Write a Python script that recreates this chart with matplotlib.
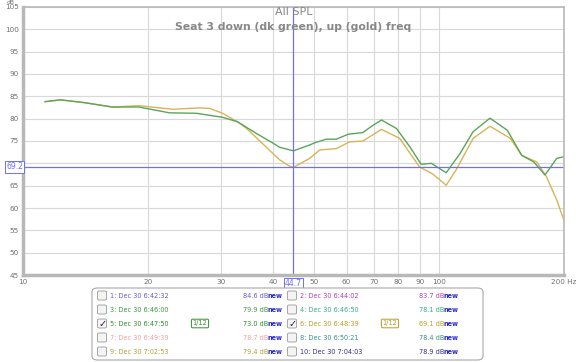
import numpy as np
import matplotlib.pyplot as plt
from matplotlib.patches import FancyBboxPatch, Rectangle

# dados (Hz, dB)
freq_verde = [11.3, 12.3, 14.0, 16.4, 19.0, 22.5, 26.1, 30.2, 32.8, 36.4, 39.8, 41.4, 44.7,
              48.9, 50.3, 53.6, 56.7, 60.5, 65.7, 68.7, 72.8, 79.1, 85.2, 90.7, 96.0,
              104.2, 112.5, 121.0, 132.8, 146.2, 158.3, 169.3, 180.1, 192.2, 200.0]
spl_verde = [83.8, 84.2, 83.6, 82.6, 82.6, 81.3, 81.2, 80.3, 79.3, 76.7, 74.6, 73.6, 72.8,
             74.1, 74.6, 75.4, 75.4, 76.5, 76.9, 78.2, 79.7, 77.8, 73.7, 69.8, 70.0,
             67.9, 72.2, 77.1, 80.1, 77.4, 71.8, 70.3, 67.4, 71.1, 71.5]

freq_ouro = [11.3, 12.3, 14.0, 16.4, 19.0, 22.9, 26.5, 28.1, 30.2, 32.8, 34.5, 37.6, 41.4,
             43.7, 44.7, 48.9, 51.7, 56.7, 61.0, 65.7, 72.8, 80.5, 89.9, 96.8, 104.2,
             110.0, 121.0, 132.8, 148.6, 158.3, 172.1, 181.6, 192.2, 200.0]
spl_ouro = [83.8, 84.2, 83.6, 82.6, 82.9, 82.1, 82.4, 82.3, 81.2, 79.3, 77.8, 74.5, 70.8,
            69.4, 69.1, 71.1, 73.0, 73.3, 74.8, 75.0, 77.6, 75.6, 69.2, 67.6, 65.1,
            68.5, 75.6, 78.3, 75.6, 71.8, 70.3, 67.0, 61.8, 57.3]

x_ticks = [10, 20, 30, 40, 50, 60, 70, 80, 90, 100, 200]
x_labels = ['10', '20', '30', '40', '50', '60', '70', '80', '90', '100', '200 Hz']
y_ticks = list(range(45, 106, 5))

cursor_f = 44.7
cursor_db = 69.2

# legenda: (nome, valor, cor, marcado)
legenda = [
    ('1: Dec 30 6:42:32', '84.6 dB', '#6a5acd', False),
    ('2: Dec 30 6:44:02', '83.7 dB', '#b040b8', False),
    ('3: Dec 30 6:46:00', '79.9 dB', '#3a9a3a', False),
    ('4: Dec 30 6:46:50', '78.1 dB', '#30b080', False),
    ('5: Dec 30 6:47:50', '73.0 dB', '#2e8b2e', True),
    ('6: Dec 30 6:48:39', '69.1 dB', '#b89a20', True),
    ('7: Dec 30 6:49:39', '78.7 dB', '#f0a0a0', False),
    ('8: Dec 30 6:50:21', '78.4 dB', '#30908a', False),
    ('9: Dec 30 7:02:53', '79.4 dB', '#b0a030', False),
    ('10: Dec 30 7:04:03', '78.9 dB', '#303090', False),
]

azul = '#7070e8'

fig = plt.figure(figsize=(5.76, 3.62), dpi=100)
ax = fig.add_axes([0.040, 0.240, 0.939, 0.741])

ax.set_xscale('log')
ax.set_xlim(10, 200)
ax.set_ylim(45, 105)

ax.plot(freq_ouro, spl_ouro, color='#d8b458', lw=1.0)
ax.plot(freq_verde, spl_verde, color='#5aa55a', lw=1.0)

ax.axvline(cursor_f, color=azul, lw=0.9)
ax.axhline(cursor_db, color=azul, lw=0.9)

ax.set_xticks(x_ticks)
ax.set_xticklabels(x_labels)
ax.set_xticks([], minor=True)
ax.set_yticks(y_ticks)
ax.grid(True, color='#d8d8d8', lw=0.8)
ax.set_axisbelow(True)
ax.tick_params(length=0, labelsize=5.2, labelcolor='#707070', pad=3)
ax.get_xticklabels()[-1].set_horizontalalignment('center')
for s in ax.spines.values():
    s.set_color('#b8b8b8')
    s.set_linewidth(1.2)
ax.spines['left'].set_linewidth(2.5)
ax.spines['bottom'].set_linewidth(2.5)

fig.text(0.018, 1.0, 'dB', fontsize=4.3, color='#707070', ha='center', va='top')

# titulo
ax.text(0.5, 1.0, 'All SPL', transform=ax.transAxes, ha='center', va='top',
        fontsize=8, color='#888888')
ax.text(0.5, 0.945, 'Seat 3 down (dk green), up (gold) freq', transform=ax.transAxes,
        ha='center', va='top', fontsize=7.8, color='#888888', fontweight='bold')

# rotulos do cursor
ax.text(0, cursor_db, '%.1f' % cursor_db, transform=ax.get_yaxis_transform(), ha='right',
        va='center', fontsize=5.5, color=azul, zorder=5,
        bbox=dict(boxstyle='square,pad=0.15', fc='white', ec=azul, lw=0.7))
ax.text(cursor_f, -0.03, '%.1f' % cursor_f, transform=ax.get_xaxis_transform(), ha='center',
        va='center', fontsize=5.5, color=azul, zorder=5,
        bbox=dict(boxstyle='square,pad=0.15', fc='white', ec=azul, lw=0.7))

# caixa da legenda
W, H = 576, 362
def px(x, y):
    return x / W, 1 - y / H

x0, y0 = px(92, 360)
x1, y1 = px(483, 288)
fig.patches.append(FancyBboxPatch((x0, y0), x1 - x0, y1 - y0, boxstyle='round,pad=0,rounding_size=0.01',
                                  transform=fig.transFigure, fc='white', ec='#a8a8a8', lw=0.8))

linhas_y = [295.5, 309.5, 323.5, 337.5, 351.5]
col_x = [(102, 110, 268, 200), (292, 300, 444, 390)]
for i, (nome, valor, cor, marcado) in enumerate(legenda):
    cx, tx, vx, ix = col_x[i % 2]
    yy = linhas_y[i // 2]
    bx, by = px(cx - 4.5, yy + 4.5)
    fig.patches.append(FancyBboxPatch((bx, by), 9 / W, 9 / H, boxstyle='round,pad=0,rounding_size=0.003',
                                      transform=fig.transFigure, fc='#f4f4f4', ec='#999999', lw=0.6))
    if marcado:
        fig.text(*px(cx + 0.5, yy), '\u2713', fontsize=7, ha='center', va='center', color='#222222')
    fig.text(*px(tx, yy), nome, fontsize=4.7, color=cor, ha='left', va='center')
    fig.text(*px(vx, yy), valor, fontsize=4.7, color=cor, ha='right', va='center')
    fig.text(*px(vx, yy), 'new', fontsize=4.7, color='#2a2ad0', ha='left', va='center',
             fontweight='bold')
    if marcado:
        fig.text(*px(ix, yy), '1/12', fontsize=4.7, color=cor, ha='center', va='center',
                 bbox=dict(boxstyle='round,pad=0.2', fc='white', ec=cor, lw=0.7))

fig.savefig('out.png', dpi=100)
